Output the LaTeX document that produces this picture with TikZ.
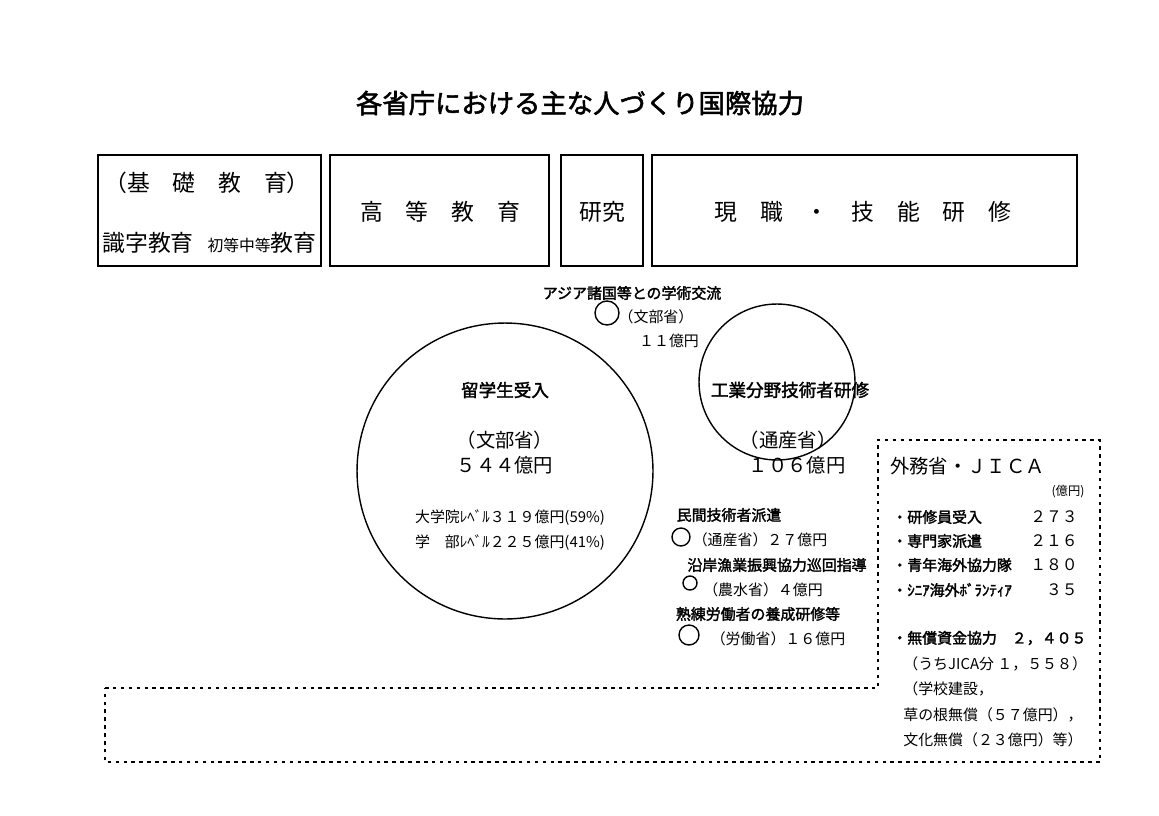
\documentclass[tikz,border=0pt]{standalone}
\usepackage{fontspec}
\setmainfont{Noto Sans CJK JP}
\newfontfamily\jpbold[FakeBold=2]{Noto Sans CJK JP}
\usetikzlibrary{positioning}
\begin{document}
\begin{tikzpicture}[x=0.02cm, y=-0.02cm,
            area/.style={draw, line width=0.9pt},
            head/.style={font=\jpbold\fontsize{15}{15}\selectfont},
            big/.style={font=\fontsize{13}{13}\selectfont},
            mid/.style={font=\fontsize{11}{11}\selectfont},
            small/.style={font=\fontsize{8.5}{9}\selectfont},
            tag/.style={font=\jpbold\fontsize{8.5}{9}\selectfont},
            budget/.style={draw, circle, line width=0.8pt, inner sep=0pt},
            list/.style={font=\fontsize{8.5}{9}\selectfont, anchor=west, inner sep=0pt}]
    \useasboundingbox (0,0) rectangle (1159,815);
    \node[head] (title) at (580,103) {各省庁における主な人づくり国際協力};
    % field boxes
    \draw[area] (98,155) rectangle (321,266);
    \draw[area] (330,155) rectangle (549,266);
    \draw[area] (561,155) rectangle (643,266);
    \draw[area] (652,155) rectangle (1077,266);
    \node[big] (basic) at (207,183) {（基　礎　教　育）};
    \node[big] (literacy) at (148,243) {識字教育};
    \node[big] (primary) at (262,243) {{\fontsize{9}{9}\selectfont 初等中等}教育};
    \node[big] (higher) at (440,212) {高　等　教　育};
    \node[big] (research) at (602,212) {研究};
    \node[big] (training) at (863,212) {現　職　・　技　能　研　修};
    % circles
    \node[budget, minimum size=0.48cm] (exchange) at (607,313) {};
    \node[tag] (exchangelbl) at (632,293) {アジア諸国等との学術交流};
    \node[small] (exchangemin) at (656,317) {（文部省）};
    \node[small] (exchangeval) at (669,341) {１１億円};
    \node[budget, minimum size=5.92cm] (students) at (505,471) {};
    \node[tag, font=\jpbold\fontsize{10}{10}\selectfont] (studentslbl) at (505,390) {留学生受入};
    \node[mid] (studentsmin) at (505,440) {（文部省）};
    \node[mid] (studentsval) at (505,465) {５４４億円};
    \node[small] (grad) at (510,518) {大学院ﾚﾍﾞﾙ３１９億円(59\%)};
    \node[small] (undergrad) at (510,543) {学　部ﾚﾍﾞﾙ２２５億円(41\%)};
    \node[budget, minimum size=3.12cm] (engineers) at (777,382) {};
    \node[tag, font=\jpbold\fontsize{10}{10}\selectfont] (engineerslbl) at (790,390) {工業分野技術者研修};
    \node[mid] (engineersmin) at (788,440) {（通産省）};
    \node[mid] (engineersval) at (797,465) {１０６億円};
    \node[budget, minimum size=0.36cm] (dispatch) at (681,537) {};
    \node[tag] (dispatchlbl) at (729,515) {民間技術者派遣};
    \node[small] (dispatchval) at (760,540) {（通産省）２７億円};
    \node[budget, minimum size=0.28cm] (fishery) at (690,583) {};
    \node[tag] (fisherylbl) at (777,565) {沿岸漁業振興協力巡回指導};
    \node[small] (fisheryval) at (763,590) {（農水省）４億円};
    \node[budget, minimum size=0.4cm] (labour) at (689,635) {};
    \node[tag] (labourlbl) at (758,614) {熟練労働者の養成研修等};
    \node[small] (labourval) at (778,639) {（労働省）１６億円};
    % MOFA / JICA area
    \draw[line width=1pt, dash pattern=on 2pt off 2.5pt] (105,688) -- (878,688) -- (878,440) -- (1100,440) -- (1100,762) -- (105,762) -- cycle;
    \node[mid, anchor=west] (jica) at (884,466) {外務省・ＪＩＣＡ};
    \node[small, font=\fontsize{7}{7}\selectfont] (unit) at (1068,492) {(億円)};
    \foreach \y/\item/\val in {517/研修員受入/２７３, 541/専門家派遣/２１６, 565/青年海外協力隊/１８０, 590/ｼﾆｱ海外ﾎﾞﾗﾝﾃｨｱ/　３５} {
        \node[list, font=\jpbold\fontsize{8.5}{9}\selectfont] at (892,\y) {・\item};
        \node[list, font=\fontsize{9}{9}\selectfont] at (1030,\y) {\val};
    }
    \node[list, font=\jpbold\fontsize{8.5}{9}\selectfont] (grant) at (892,638) {・無償資金協力　２，４０５};
    \node[list] (grantjica) at (903,664) {（うちJICA分 １，５５８）};
    \node[list] (school) at (903,689) {（学校建設，};
    \node[list] (grass) at (903,715) {草の根無償（５７億円），};
    \node[list] (culture) at (903,740) {文化無償（２３億円）等）};
\end{tikzpicture}
\end{document}
